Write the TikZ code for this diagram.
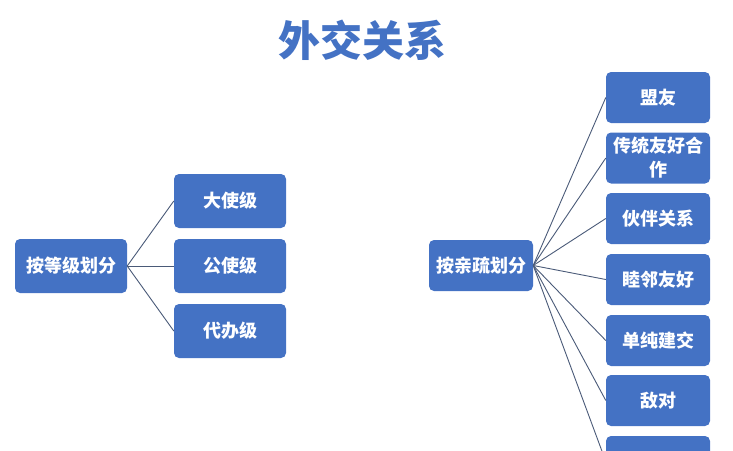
\documentclass[tikz,border=0pt]{standalone}
\usepackage{fontspec}
\setmainfont{Noto Sans CJK SC}
\definecolor{boxblue}{HTML}{4472C4}
\definecolor{linecol}{HTML}{4A5A78}
\tikzset{
  box/.style={draw=none, fill=boxblue, rounded corners=5pt, text=white,
    font=\bfseries\fontsize{18}{24}\selectfont, align=center, inner sep=0pt},
  conn/.style={draw=linecol, line width=0.9pt}
}
\begin{document}
\begin{tikzpicture}[x=1pt,y=-1pt]
\clip (0,0) rectangle (733,450);
\useasboundingbox (0,0) rectangle (733,450);
\node[text=boxblue, font=\bfseries\fontsize{42}{46}\selectfont] (title) at (362,40) {外交关系};
% left group
\node[box, minimum width=112pt, minimum height=54pt] (L) at (71,266) {按等级划分};
\node[box, minimum width=112pt, minimum height=54pt] (L1) at (230,201) {大使级};
\node[box, minimum width=112pt, minimum height=54pt] (L2) at (230,266) {公使级};
\node[box, minimum width=112pt, minimum height=54pt] (L3) at (230,331) {代办级};
\foreach \c in {L1,L2,L3} \draw[conn] (L.east) -- (\c.west);
% right group
\node[box, minimum width=104pt, minimum height=51pt] (R) at (481,265.5) {按亲疏划分};
\node[box, minimum width=104pt, minimum height=51pt] (R1) at (658,97.5) {盟友};
\node[box, minimum width=104pt, minimum height=51pt] (R2) at (658,158) {传统友好合\\作};
\node[box, minimum width=104pt, minimum height=51pt] (R3) at (658,218.5) {伙伴关系};
\node[box, minimum width=104pt, minimum height=51pt] (R4) at (658,279.5) {睦邻友好};
\node[box, minimum width=104pt, minimum height=51pt] (R5) at (658,340.5) {单纯建交};
\node[box, minimum width=104pt, minimum height=51pt] (R6) at (658,400.5) {敌对};
\node[box, minimum width=104pt, minimum height=51pt] (R7) at (658,461.5) {};
\foreach \c in {R1,R2,R3,R4,R5,R6,R7} \draw[conn] (R.east) -- (\c.west);
\end{tikzpicture}
\end{document}
